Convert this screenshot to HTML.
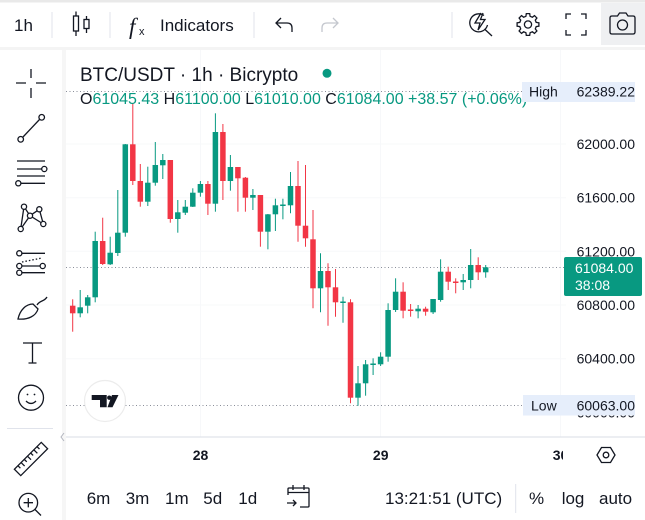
<!DOCTYPE html>
<html><head><meta charset="utf-8"><style>
html,body{margin:0;padding:0;background:#fff;width:645px;height:520px;overflow:hidden}
svg{display:block;font-family:"Liberation Sans",sans-serif}
</style></head><body>
<svg width="645" height="520" viewBox="0 0 645 520" xmlns="http://www.w3.org/2000/svg">
<defs><clipPath id="pane"><rect x="66" y="50" width="499" height="470"/></clipPath>
<clipPath id="tpane"><rect x="66" y="440" width="497" height="30"/></clipPath></defs>
<rect width="645" height="520" fill="#fff"/>
<rect x="0" y="0" width="645" height="2.5" fill="#e9e9e9"/>
<rect x="0" y="47" width="645" height="3" fill="#f4f4f4"/>
<rect x="62" y="50" width="4" height="470" fill="#f6f6f6"/>
<!-- camera bg -->
<rect x="601" y="3" width="44" height="42" fill="#eff0f2"/>

<!-- top toolbar -->
<g fill="#131722" font-size="17">
<text x="14" y="31">1h</text>
<text x="160" y="31">Indicators</text>
</g>
<g stroke="#e0e3eb" stroke-width="1">
<line x1="52" y1="12" x2="52" y2="38"/>
<line x1="110" y1="12" x2="110" y2="38"/>
<line x1="254" y1="12" x2="254" y2="38"/>
<line x1="452" y1="12" x2="452" y2="38"/>
</g>
<g stroke="#131722" stroke-width="1.3" fill="none">
<line x1="76" y1="11.5" x2="76" y2="36"/>
<rect x="73.5" y="16" width="5" height="15" fill="#fff"/>
<line x1="86.5" y1="16" x2="86.5" y2="33"/>
<rect x="84" y="19.5" width="5" height="9" fill="#fff"/>
<path d="M281,18 L276,23 L281,28 M276,23 H287 Q292,23 292,28 V32"/>
<path d="M566,19 V14 H571 M581,14 H586 V19 M586,30 V35 H581 M571,35 H566 V30"/>
<polygon points="536.2,22.4 538.9,22.8 538.9,26.2 536.2,26.6 535.3,28.9 536.9,31.0 534.5,33.4 532.4,31.8 530.1,32.7 529.7,35.4 526.3,35.4 525.9,32.7 523.6,31.8 521.5,33.4 519.1,31.0 520.7,28.9 519.8,26.6 517.1,26.2 517.1,22.8 519.8,22.4 520.7,20.1 519.1,18.0 521.5,15.6 523.6,17.2 525.9,16.3 526.3,13.6 529.7,13.6 530.1,16.3 532.4,17.2 534.5,15.6 536.9,18.0 535.3,20.1"/>
<circle cx="528" cy="24.5" r="3.6"/>
<path d="M612,16 H617.5 L619.5,13 H626 L628,16 H633 Q635,16 635,18 V32 Q635,34 633,34 H612 Q610,34 610,32 V18 Q610,16 612,16 Z"/>
<circle cx="622.5" cy="25" r="5"/>
<path d="M484,15.5 A9,9 0 1 0 487.5,25"/>
<line x1="484.5" y1="29" x2="492" y2="36"/>
<path d="M481,13 L475,23 H480 L478,30 L485,19.5 H480.5 L483,13"/>
</g>
<path d="M339,18 L344,23 L339,28 M344,23 H333 Q328,23 328,28 V32" stroke="#c4c7ce" stroke-width="1.3" fill="none" transform="translate(-6,0)"/>
<text x="129" y="34" font-family="Liberation Serif,serif" font-style="italic" font-size="23" fill="#131722">f</text>
<text x="139" y="35" font-size="11" fill="#131722">x</text>

<!-- left toolbar icons -->
<g stroke="#131722" stroke-width="1.3" fill="none">
<path d="M16,83 H26 M36,83 H46 M31,69 V78 M31,88 V98"/>
<line x1="23" y1="137" x2="39.5" y2="119.5"/>
<circle cx="20.7" cy="139.3" r="2.8" fill="#fff"/>
<circle cx="41.7" cy="117.3" r="2.8" fill="#fff"/>
<path d="M17,161 H45 M17,169 H41.5 M17,176 H45 M21,183.3 H45"/>
<circle cx="44.3" cy="169" r="2.6" fill="#fff"/>
<circle cx="18.3" cy="183.3" r="2.6" fill="#fff"/>
<path d="M20.7,229 L24,206.7 L30,215.7 L39.3,209.3 L43.3,224 L30,215.7 L20.7,229"/>
<circle cx="24" cy="206.7" r="2.6" fill="#fff"/>
<circle cx="39.3" cy="209.3" r="2.6" fill="#fff"/>
<circle cx="30" cy="215.7" r="2.6" fill="#fff"/>
<circle cx="20.7" cy="229" r="2.6" fill="#fff"/>
<circle cx="43.3" cy="224" r="2.6" fill="#fff"/>
<path d="M22,253.3 H45 M22,266 H40 M22,272.7 H45"/>
<path d="M22,262 L42,258" stroke-dasharray="1.5,2"/>
<circle cx="19.3" cy="253.3" r="2.6" fill="#fff"/>
<circle cx="19.3" cy="266" r="2.6" fill="#fff"/>
<circle cx="19.3" cy="272.7" r="2.6" fill="#fff"/>
<circle cx="42.7" cy="266" r="2.6" fill="#fff"/>
<path d="M18,319 C20,310 26,304 33,304 L38,309 C36,316 28,320 18,319 Z"/>
<path d="M37,305 C40,300 44,302 47,297"/>
<path d="M23,343 H42 M32.5,343 V363 M28.5,363 H36.5"/>
<circle cx="31" cy="397.7" r="12.5"/>
<path d="M26,401 Q31,406 36,401"/>
<g transform="rotate(-45 31 459)"><rect x="12" y="454.5" width="38" height="9"/><path d="M17,454.5 V458 M21.5,454.5 V459.5 M26,454.5 V458 M30.5,454.5 V459.5 M35,454.5 V458 M39.5,454.5 V459.5 M44,454.5 V458"/></g>
<circle cx="28.3" cy="502.7" r="9.3"/>
<path d="M28.3,498 V507.4 M23.6,502.7 H33 M35,509.5 L41,515.5"/>
</g>
<g fill="#131722"><circle cx="27.5" cy="394.5" r="0.9"/><circle cx="34.5" cy="394.5" r="0.9"/></g>
<line x1="7" y1="428.5" x2="53" y2="428.5" stroke="#e0e3eb" stroke-width="1"/>
<path d="M64,433 L61,437 L64,441" stroke="#b2b5be" stroke-width="1" fill="none"/>

<!-- grid -->
<g stroke="#f7f8fa" stroke-width="1">
<line x1="200.5" y1="50" x2="200.5" y2="437"/>
<line x1="380.5" y1="50" x2="380.5" y2="437"/>
<line x1="560.5" y1="50" x2="560.5" y2="437"/>
<line x1="66" y1="144" x2="566" y2="144"/>
<line x1="66" y1="197.7" x2="566" y2="197.7"/>
<line x1="66" y1="251.3" x2="566" y2="251.3"/>
<line x1="66" y1="305" x2="566" y2="305"/>
<line x1="66" y1="358.7" x2="566" y2="358.7"/>
</g>

<!-- dotted lines -->
<g stroke="#8a8e99" stroke-width="1" stroke-dasharray="1,2.5">
<line x1="66" y1="91.5" x2="522" y2="91.5"/>
<line x1="66" y1="405.5" x2="523" y2="405.5"/>
<line x1="66" y1="267.5" x2="564" y2="267.5"/>
</g>

<!-- candles -->
<g clip-path="url(#pane)">
<g stroke="#f23645" fill="#f23645" stroke-width="1">
<line x1="72.7" y1="299.3" x2="72.7" y2="331.7"/><rect x="69.95" y="305.7" width="5.5" height="7.6" stroke="none"/>
<line x1="102.7" y1="217.7" x2="102.7" y2="265"/><rect x="99.95" y="241" width="5.5" height="23" stroke="none"/>
<line x1="132.8" y1="103" x2="132.8" y2="185"/><rect x="130.05" y="144.3" width="5.5" height="36.7" stroke="none"/>
<line x1="140.3" y1="164" x2="140.3" y2="206.7"/><rect x="137.55" y="181" width="5.5" height="20.7" stroke="none"/>
<line x1="170.3" y1="160" x2="170.3" y2="222.7"/><rect x="167.55" y="160" width="5.5" height="59" stroke="none"/>
<line x1="207.9" y1="181" x2="207.9" y2="215"/><rect x="205.15" y="184" width="5.5" height="19.7" stroke="none"/>
<line x1="222.9" y1="124" x2="222.9" y2="200"/><rect x="220.15" y="132" width="5.5" height="49" stroke="none"/>
<line x1="237.9" y1="167" x2="237.9" y2="211.7"/><rect x="235.15" y="167" width="5.5" height="11.3" stroke="none"/>
<line x1="245.4" y1="177" x2="245.4" y2="211.7"/><rect x="242.65" y="177.7" width="5.5" height="20" stroke="none"/>
<line x1="260.4" y1="195" x2="260.4" y2="246.7"/><rect x="257.65" y="195" width="5.5" height="36.7" stroke="none"/>
<line x1="298" y1="161" x2="298" y2="241.7"/><rect x="295.25" y="186" width="5.5" height="39.7" stroke="none"/>
<line x1="305.5" y1="165" x2="305.5" y2="246.7"/><rect x="302.75" y="225.7" width="5.5" height="12.6" stroke="none"/>
<line x1="313" y1="210" x2="313" y2="308.3"/><rect x="310.25" y="239.3" width="5.5" height="49" stroke="none"/>
<line x1="328" y1="263.3" x2="328" y2="325.7"/><rect x="325.25" y="271" width="5.5" height="16.3" stroke="none"/>
<line x1="335.5" y1="269" x2="335.5" y2="316.7"/><rect x="332.75" y="287.3" width="5.5" height="15" stroke="none"/>
<line x1="350.5" y1="299.3" x2="350.5" y2="403.3"/><rect x="347.75" y="302.3" width="5.5" height="95.4" stroke="none"/>
<line x1="403.1" y1="282.3" x2="403.1" y2="318.3"/><rect x="400.35" y="291.7" width="5.5" height="19" stroke="none"/>
<line x1="410.6" y1="304" x2="410.6" y2="316.7"/><rect x="407.85" y="309.5" width="5.5" height="1.5" stroke="none"/>
<line x1="425.6" y1="306.7" x2="425.6" y2="315.7"/><rect x="422.85" y="308.7" width="5.5" height="3" stroke="none"/>
<line x1="448.2" y1="266.7" x2="448.2" y2="290"/><rect x="445.45" y="271.7" width="5.5" height="10" stroke="none"/>
<line x1="455.7" y1="278.3" x2="455.7" y2="293.3"/><rect x="452.95" y="281.5" width="5.5" height="1.5" stroke="none"/>
<line x1="478.2" y1="257.3" x2="478.2" y2="280"/><rect x="475.45" y="265" width="5.5" height="7.3" stroke="none"/>
</g>
<g stroke="#089981" fill="#089981" stroke-width="1">
<line x1="80.2" y1="290" x2="80.2" y2="317.3"/><rect x="77.45" y="307.3" width="5.5" height="6" stroke="none"/>
<line x1="87.7" y1="295" x2="87.7" y2="313.3"/><rect x="84.95" y="297.3" width="5.5" height="8.4" stroke="none"/>
<line x1="95.2" y1="231.7" x2="95.2" y2="302.3"/><rect x="92.45" y="241" width="5.5" height="56.3" stroke="none"/>
<line x1="110.2" y1="236.7" x2="110.2" y2="265"/><rect x="107.45" y="252.7" width="5.5" height="11.6" stroke="none"/>
<line x1="117.8" y1="190" x2="117.8" y2="256"/><rect x="115.05" y="232.7" width="5.5" height="20.3" stroke="none"/>
<line x1="125.3" y1="144" x2="125.3" y2="236.7"/><rect x="122.55" y="144.3" width="5.5" height="88.4" stroke="none"/>
<line x1="147.8" y1="166.7" x2="147.8" y2="206"/><rect x="145.05" y="182.7" width="5.5" height="19" stroke="none"/>
<line x1="155.3" y1="142" x2="155.3" y2="185.7"/><rect x="152.55" y="165" width="5.5" height="17.7" stroke="none"/>
<line x1="162.8" y1="154" x2="162.8" y2="179"/><rect x="160.05" y="160" width="5.5" height="5.3" stroke="none"/>
<line x1="177.8" y1="200" x2="177.8" y2="232.7"/><rect x="175.05" y="212.3" width="5.5" height="6.7" stroke="none"/>
<line x1="185.3" y1="200" x2="185.3" y2="215"/><rect x="182.55" y="206.7" width="5.5" height="6" stroke="none"/>
<line x1="192.8" y1="188.3" x2="192.8" y2="207"/><rect x="190.05" y="192.7" width="5.5" height="14" stroke="none"/>
<line x1="200.4" y1="181" x2="200.4" y2="196.7"/><rect x="197.65" y="184" width="5.5" height="8.7" stroke="none"/>
<line x1="215.4" y1="113.3" x2="215.4" y2="211.7"/><rect x="212.65" y="132" width="5.5" height="71.7" stroke="none"/>
<line x1="230.4" y1="155" x2="230.4" y2="190.7"/><rect x="227.65" y="167" width="5.5" height="14" stroke="none"/>
<line x1="252.9" y1="189" x2="252.9" y2="210"/><rect x="250.15" y="195" width="5.5" height="2.7" stroke="none"/>
<line x1="267.9" y1="214" x2="267.9" y2="249.3"/><rect x="265.15" y="214.3" width="5.5" height="17.4" stroke="none"/>
<line x1="275.4" y1="198.7" x2="275.4" y2="231"/><rect x="272.65" y="205.3" width="5.5" height="9" stroke="none"/>
<line x1="282.9" y1="198.7" x2="282.9" y2="219.3"/><rect x="280.15" y="204.5" width="5.5" height="1.5" stroke="none"/>
<line x1="290.5" y1="172" x2="290.5" y2="213.3"/><rect x="287.75" y="186" width="5.5" height="19.3" stroke="none"/>
<line x1="320.5" y1="253.3" x2="320.5" y2="312.3"/><rect x="317.75" y="271" width="5.5" height="17.3" stroke="none"/>
<line x1="343" y1="296.7" x2="343" y2="322.7"/><rect x="340.25" y="301.5" width="5.5" height="1.5" stroke="none"/>
<line x1="358" y1="366" x2="358" y2="405.7"/><rect x="355.25" y="383.3" width="5.5" height="14.4" stroke="none"/>
<line x1="365.6" y1="360" x2="365.6" y2="395.7"/><rect x="362.85" y="364.3" width="5.5" height="19" stroke="none"/>
<line x1="373.1" y1="358.3" x2="373.1" y2="375"/><rect x="370.35" y="363.5" width="5.5" height="1.5" stroke="none"/>
<line x1="380.6" y1="352.3" x2="380.6" y2="366"/><rect x="377.85" y="356.7" width="5.5" height="7.6" stroke="none"/>
<line x1="388.1" y1="303.3" x2="388.1" y2="361.7"/><rect x="385.35" y="310" width="5.5" height="46.7" stroke="none"/>
<line x1="395.6" y1="278.3" x2="395.6" y2="312"/><rect x="392.85" y="291.7" width="5.5" height="18.3" stroke="none"/>
<line x1="418.1" y1="305" x2="418.1" y2="318.3"/><rect x="415.35" y="308.7" width="5.5" height="2.6" stroke="none"/>
<line x1="433.1" y1="299" x2="433.1" y2="314"/><rect x="430.35" y="299" width="5.5" height="13.3" stroke="none"/>
<line x1="440.6" y1="259.3" x2="440.6" y2="301.7"/><rect x="437.85" y="271.7" width="5.5" height="28.3" stroke="none"/>
<line x1="463.2" y1="274" x2="463.2" y2="290"/><rect x="460.45" y="280" width="5.5" height="2.3" stroke="none"/>
<line x1="470.7" y1="249" x2="470.7" y2="288.3"/><rect x="467.95" y="265" width="5.5" height="15" stroke="none"/>
<line x1="485.7" y1="265" x2="485.7" y2="277.7"/><rect x="482.95" y="267.3" width="5.5" height="5" stroke="none"/>
</g>
</g>

<!-- TV logo -->
<circle cx="105" cy="401" r="20.5" fill="#fff" stroke="#ececec" stroke-width="1.2"/>
<g fill="#131722">
<path d="M91.7,395 H106.7 V407.3 H100 V400 H91.7 Z"/>
<circle cx="109.3" cy="397.7" r="2.2"/>
<path d="M112,395 H118.5 L112.5,407.3 H107.5 Z"/>
</g>

<!-- legend -->
<text x="80" y="81" font-size="19" fill="#131722">BTC/USDT · 1h · Bicrypto</text>
<circle cx="327" cy="73.3" r="4.5" fill="#089981"/>
<text x="80" y="104" font-size="16" fill="#089981"><tspan fill="#131722">O</tspan>61045.43 <tspan fill="#131722">H</tspan>61100.00 <tspan fill="#131722">L</tspan>61010.00 <tspan fill="#131722">C</tspan>61084.00 +38.57 (+0.06%)</text>

<!-- price axis -->
<g font-size="14" fill="#131722" text-anchor="end">
<text x="635" y="149">62000.00</text>
<text x="635" y="202.7">61600.00</text>
<text x="635" y="256.3">61200.00</text>
<text x="635" y="310">60800.00</text>
<text x="635" y="363.7">60400.00</text>
<text x="635" y="417.3">60000.00</text>
</g>
<rect x="522" y="82" width="113" height="20" fill="#e6eefb"/>
<text x="529" y="96.5" font-size="14" fill="#131722">High</text>
<text x="635" y="96.5" font-size="14" fill="#131722" text-anchor="end">62389.22</text>
<rect x="523" y="395" width="112" height="20.5" fill="#e6eefb"/>
<text x="531" y="410.5" font-size="14" fill="#131722">Low</text>
<text x="635" y="410.5" font-size="14" fill="#131722" text-anchor="end">60063.00</text>
<rect x="564" y="257" width="78" height="39" rx="2" fill="#089981"/>
<text x="575" y="273" font-size="14" fill="#fff">61084.00</text>
<text x="575" y="290" font-size="14" fill="#fff">38:08</text>

<!-- time axis -->
<line x1="66" y1="437" x2="645" y2="437" stroke="#e0e3eb" stroke-width="1.2"/>
<g font-size="14" font-weight="bold" fill="#131722" text-anchor="middle">
<text x="200.5" y="460">28</text>
<text x="380.7" y="460">29</text>
<g clip-path="url(#tpane)"><text x="560.5" y="460">30</text></g>
</g>
<g stroke="#131722" stroke-width="1.3" fill="none">
<polygon points="597,455 601.5,447.5 610.5,447.5 615,455 610.5,462.5 601.5,462.5"/>
<circle cx="606" cy="455" r="2.8"/>
</g>

<!-- bottom toolbar -->
<g font-size="17" fill="#131722">
<text x="86.7" y="504">6m</text>
<text x="125.7" y="504">3m</text>
<text x="165" y="504">1m</text>
<text x="203.3" y="504">5d</text>
<text x="238.3" y="504">1d</text>
<text x="385" y="504">13:21:51 (UTC)</text>
<text x="529" y="504">%</text>
<text x="561.7" y="504">log</text>
<text x="599" y="504">auto</text>
</g>
<line x1="515.7" y1="484" x2="515.7" y2="513" stroke="#e0e3eb" stroke-width="1"/>
<g stroke="#131722" stroke-width="1.3" fill="none">
<path d="M288,495 V489 Q288,488 289,488 H308 Q309,488 309,489 V506 Q309,507 308,507 H300"/>
<path d="M288,492.5 H309 M293,485 V490 M304,485 V490"/>
<path d="M287,503 H296 M293,500 L296,503 L293,506"/>
</g>
</svg>
</body></html>
